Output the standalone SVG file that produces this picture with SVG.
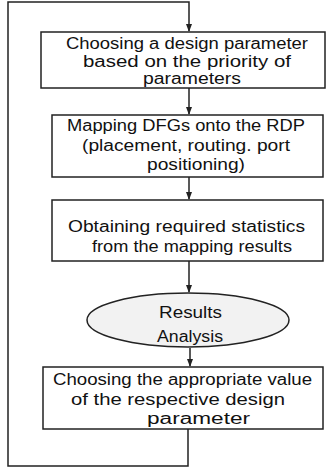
<svg xmlns="http://www.w3.org/2000/svg" width="328" height="474" viewBox="0 0 328 474">
<style>
.box{fill:#fff;stroke:#222;stroke-width:1.5}
.ell{fill:#f2f2f2;stroke:#222;stroke-width:1.5}
.ln{fill:none;stroke:#222;stroke-width:1.5}
text{font-family:"Liberation Sans",Arial,sans-serif;font-size:16px;fill:#111}
</style>
<defs>
<marker id="ah" markerWidth="8" markerHeight="10" refX="7" refY="4" orient="auto" markerUnits="userSpaceOnUse" viewBox="0 0 8 8">
<path d="M0,1 L8,4 L0,7 z" fill="#222"/>
</marker>
</defs>
<g id="connectors">
<path class="ln" d="M188,429 V466 H8 V2 H189 V31" marker-end="url(#ah)"/>
<path class="ln" d="M189,88 V114" marker-end="url(#ah)"/>
<path class="ln" d="M189,177 V199" marker-end="url(#ah)"/>
<path class="ln" d="M189,261 V292" marker-end="url(#ah)"/>
<path class="ln" d="M190,348 V366" marker-end="url(#ah)"/>
</g>
<g id="n1">
<rect class="box" x="41" y="32" width="284" height="56"/>
<text x="66" y="49" textLength="242" lengthAdjust="spacingAndGlyphs">Choosing a design parameter</text>
<text x="83" y="67" textLength="208" lengthAdjust="spacingAndGlyphs">based on the priority of</text>
<text x="143" y="84" textLength="98" lengthAdjust="spacingAndGlyphs">parameters</text>
</g>
<g id="n2">
<rect class="box" x="52" y="115" width="271" height="62"/>
<text x="67" y="131" textLength="238" lengthAdjust="spacingAndGlyphs">Mapping DFGs onto the RDP</text>
<text x="82" y="151" textLength="208" lengthAdjust="spacingAndGlyphs">(placement, routing. port</text>
<text x="147" y="170" textLength="98" lengthAdjust="spacingAndGlyphs">positioning)</text>
</g>
<g id="n3">
<rect class="box" x="52" y="200" width="271" height="61"/>
<text x="68" y="232" textLength="237" lengthAdjust="spacingAndGlyphs">Obtaining required statistics</text>
<text x="92" y="252" textLength="200" lengthAdjust="spacingAndGlyphs">from the mapping results</text>
</g>
<g id="n4">
<ellipse class="ell" cx="188" cy="320" rx="101" ry="27"/>
<text x="159" y="318" textLength="63" lengthAdjust="spacingAndGlyphs">Results</text>
<text x="157" y="342" textLength="66" lengthAdjust="spacingAndGlyphs">Analysis</text>
</g>
<g id="n5">
<rect class="box" x="43" y="367" width="280" height="62"/>
<text x="53" y="385" textLength="259" lengthAdjust="spacingAndGlyphs">Choosing the appropriate value</text>
<text x="71" y="405" textLength="214" lengthAdjust="spacingAndGlyphs">of the respective design</text>
<text x="147" y="424" textLength="103" lengthAdjust="spacingAndGlyphs">parameter</text>
</g>
</svg>
